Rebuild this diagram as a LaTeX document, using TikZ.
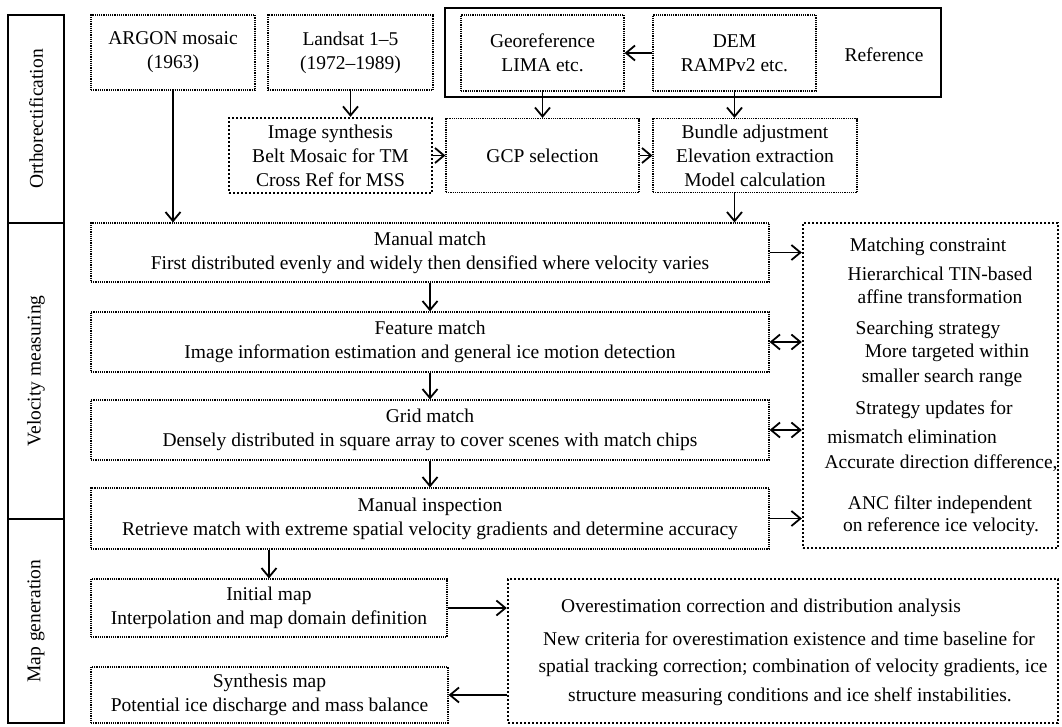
\documentclass[tikz,border=0pt]{standalone}
\usepackage{fontspec}
\setmainfont{Liberation Serif}
\usetikzlibrary{arrows.meta}
\begin{document}
\begin{tikzpicture}[x=1pt,y=-1pt,
  every node/.style={font=\fontsize{19.5}{24}\selectfont, inner sep=0pt, align=center},
  thinbox/.style={draw, line width=1.2pt, dash pattern=on 1.2pt off 1pt},
  thickbox/.style={draw, line width=2.4pt, dash pattern=on 2.4pt off 1.6pt},
  solidbox/.style={draw, line width=1.6pt},
  arr/.style={line width=1.8pt, -{Straight Barb[length=9pt,width=15pt]}},
  darr/.style={line width=1.8pt, {Straight Barb[length=9pt,width=15pt]}-{Straight Barb[length=9pt,width=15pt]}},
  txt/.style={anchor=center},
]
\useasboundingbox (0,0) rectangle (1062,726);

% phase column
\node[solidbox, rotate=90, minimum width=208pt, minimum height=56pt] (phase1) at (36,119) {Orthorectification};
\node[solidbox, rotate=90, minimum width=296pt, minimum height=56pt] (phase2) at (36,371) {Velocity measuring};
\node[solidbox, rotate=90, minimum width=204pt, minimum height=56pt] (phase3) at (36,621) {Map generation};

% top row
\node[thinbox, minimum width=164pt, minimum height=75pt] (argon) at (173,52.5) {ARGON mosaic\\(1963)};
\node[thinbox, minimum width=165pt, minimum height=75pt] (landsat) at (350.5,52.5) {Landsat 1--5\\(1972--1989)};
\node[solidbox, minimum width=496pt, minimum height=89pt] (refbox) at (693,52.5) {};
\node[thinbox, minimum width=163pt, minimum height=76pt] (georef) at (542.5,53) {Georeference\\LIMA etc.};
\node[thinbox, minimum width=163pt, minimum height=76pt] (dem) at (734.5,53) {DEM\\RAMPv2 etc.};
\node[txt] (reftext) at (884,55) {Reference};

% second row
\node[thickbox, minimum width=203pt, minimum height=75pt] (synth) at (330.5,155.5) {Image synthesis\\Belt Mosaic for TM\\Cross Ref for MSS};
\node[thinbox, minimum width=193pt, minimum height=74pt] (gcp) at (542.5,155.5) {GCP selection};
\node[thinbox, minimum width=204pt, minimum height=74pt] (bundle) at (755,155.5) {Bundle adjustment\\Elevation extraction\\Model calculation};

% velocity measuring
\node[thinbox, minimum width=678pt, minimum height=59pt] (mm) at (430,252.5) {Manual match\\First distributed evenly and widely then densified where velocity varies};
\node[thinbox, minimum width=678pt, minimum height=60pt] (fm) at (430,342) {Feature match\\Image information estimation and general ice motion detection};
\node[thinbox, minimum width=678pt, minimum height=60pt] (gm) at (430,430) {Grid match\\Densely distributed in square array to cover scenes with match chips};
\node[thinbox, minimum width=678pt, minimum height=61pt] (mi) at (430,518.5) {Manual inspection\\Retrieve match with extreme spatial velocity gradients and determine accuracy};

\node[thickbox, minimum width=255pt, minimum height=325pt] (rbox) at (930.5,385.5) {};
\node[txt] (r1) at (928,247) {Matching constraint};
\node[txt] (r2) at (940,274) {Hierarchical TIN-based};
\node[txt] (r3) at (940,297) {affine transformation};
\node[txt] (r4) at (928,330) {Searching strategy};
\node[txt] (r5) at (947,353) {More targeted within};
\node[txt] (r6) at (942,378) {smaller search range};
\node[txt] (r7) at (934,410) {Strategy updates for};
\node[txt] (r8) at (912,437) {mismatch elimination};
\node[txt] (r9) at (941,463) {Accurate direction difference,};
\node[txt] (r10) at (940,505) {ANC filter independent};
\node[txt] (r11) at (941,527) {on reference ice velocity.};

% map generation
\node[thinbox, minimum width=356pt, minimum height=58pt] (im) at (269,608) {Initial map\\Interpolation and map domain definition};
\node[thinbox, minimum width=357pt, minimum height=56pt] (sm) at (269.5,695) {Synthesis map\\Potential ice discharge and mass balance};
\node[thickbox, minimum width=550pt, minimum height=144pt] (ob) at (783,651) {};
\node[txt] (o1) at (761,608) {Overestimation correction and distribution analysis};
\node[txt] (o2) at (789,639) {New criteria for overestimation existence and time baseline for};
\node[txt] (o3) at (793,668) {spatial tracking correction; combination of velocity gradients, ice};
\node[txt] (o4) at (790,697) {structure measuring conditions and ice shelf instabilities.};

% connectors
\draw[arr] (argon.south) -- (argon.south |- mm.north);
\draw[arr] (landsat.south) -- (landsat.south |- synth.north);
\draw[arr] (dem.west) -- (georef.east);
\draw[arr] (georef.south) -- (gcp.north);
\draw[arr] (dem.south) -- (dem.south |- bundle.north);
\draw[arr] (synth.east) -- (synth.east -| gcp.west);
\draw[arr] (gcp.east) -- (bundle.west);
\draw[arr] (dem.south |- bundle.south) -- (dem.south |- mm.north);
\draw[arr] (mm.south) -- (fm.north);
\draw[arr] (fm.south) -- (gm.north);
\draw[arr] (gm.south) -- (mi.north);
\draw[arr] (mm.east) -- (mm.east -| rbox.west);
\draw[darr] (fm.east) -- (fm.east -| rbox.west);
\draw[darr] (gm.east) -- (gm.east -| rbox.west);
\draw[arr] (mi.east) -- (mi.east -| rbox.west);
\draw[arr] (im.north |- mi.south) -- (im.north);
\draw[arr] (im.east) -- (im.east -| ob.west);
\draw[arr] (ob.west |- sm.east) -- (sm.east);
\end{tikzpicture}
\end{document}
